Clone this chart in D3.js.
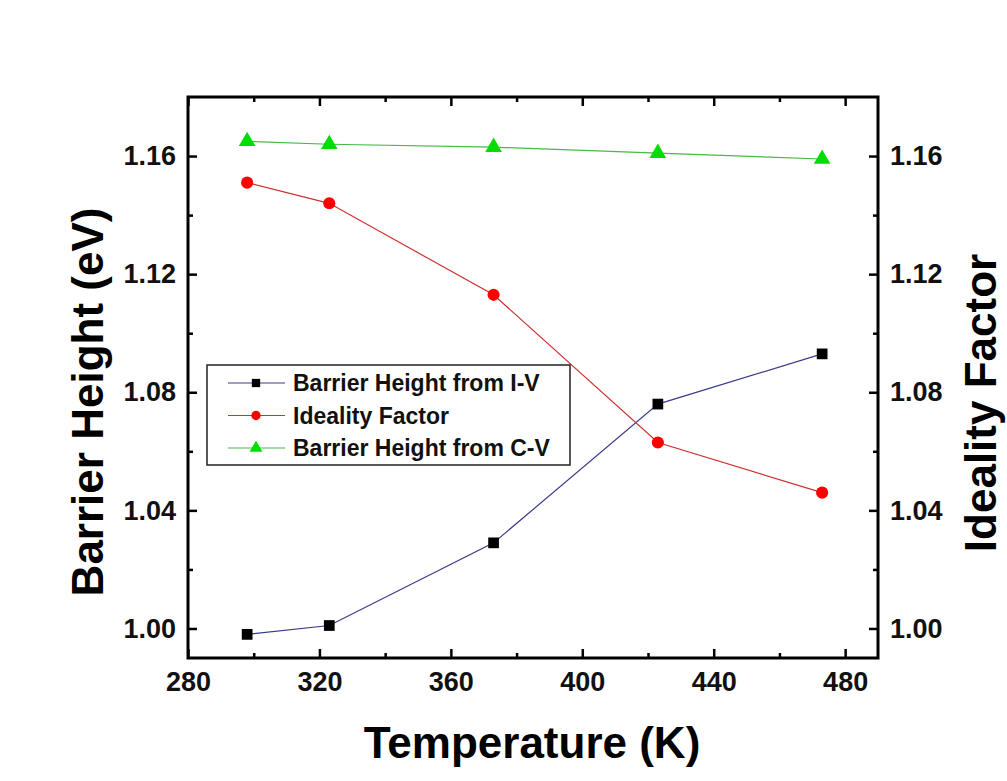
<!DOCTYPE html>
<html>
<head>
<meta charset="utf-8">
<script src="https://cdn.jsdelivr.net/npm/d3@7"></script>
<style>
  body { margin: 0; background: #fff; }
  text { font-family: "Liberation Sans", Arial, sans-serif; }
</style>
</head>
<body>
<div id="chart"></div>
<script>
// temperatures (K)
const temps = [298, 323, 373, 423, 473];
// series values
const barrierIV = [0.998, 1.001, 1.029, 1.076, 1.093];
const ideality = [1.151, 1.144, 1.113, 1.063, 1.046];
const barrierCV = [1.165, 1.164, 1.163, 1.161, 1.159];

const xTicks = [280, 320, 360, 400, 440, 480];
const yTicks = [1.00, 1.04, 1.08, 1.12, 1.16];

const seriesNames = ["Barrier Height from I-V", "Ideality Factor", "Barrier Height from C-V"];

const width = 1007, height = 781;
const plotL = 188, plotR = 878, plotT = 97, plotB = 658;

const svg = d3.select("#chart").append("svg")
  .attr("width", width)
  .attr("height", height);

const x = d3.scaleLinear().domain([280, 490]).range([plotL, plotR]);
const y = d3.scaleLinear().domain([0.99, 1.18]).range([plotB, plotT]);

const minorX = d3.range(280, 491, 20).filter(v => !xTicks.includes(v));
const minorY = d3.range(1.00, 1.18, 0.02).map(v => +v.toFixed(2)).filter(v => !yTicks.includes(v));

// ticks (inward) on all four sides
function ticks(g, axis) {
  g.call(axis);
  g.select(".domain").remove();
  g.selectAll("line").attr("stroke", "#000").attr("stroke-width", 2.5);
  g.selectAll("text")
    .attr("font-size", 27).attr("font-weight", "bold").attr("fill", "#111");
}

svg.append("g").attr("transform", `translate(0,${plotB})`)
  .call(g => ticks(g, d3.axisBottom(x).tickValues(xTicks).tickSize(-9).tickPadding(14).tickFormat(d3.format("d"))));
svg.append("g").attr("transform", `translate(0,${plotB})`)
  .call(g => ticks(g, d3.axisBottom(x).tickValues(minorX).tickSize(-5).tickFormat("")));
svg.append("g").attr("transform", `translate(0,${plotT})`)
  .call(g => ticks(g, d3.axisTop(x).tickValues(xTicks).tickSize(-9).tickFormat("")));
svg.append("g").attr("transform", `translate(0,${plotT})`)
  .call(g => ticks(g, d3.axisTop(x).tickValues(minorX).tickSize(-5).tickFormat("")));

svg.append("g").attr("transform", `translate(${plotL},0)`)
  .call(g => ticks(g, d3.axisLeft(y).tickValues(yTicks).tickSize(-9).tickPadding(12).tickFormat(d3.format(".2f"))));
svg.append("g").attr("transform", `translate(${plotL},0)`)
  .call(g => ticks(g, d3.axisLeft(y).tickValues(minorY).tickSize(-5).tickFormat("")));
svg.append("g").attr("transform", `translate(${plotR},0)`)
  .call(g => ticks(g, d3.axisRight(y).tickValues(yTicks).tickSize(-9).tickPadding(12).tickFormat(d3.format(".2f"))));
svg.append("g").attr("transform", `translate(${plotR},0)`)
  .call(g => ticks(g, d3.axisRight(y).tickValues(minorY).tickSize(-5).tickFormat("")));

// frame
svg.append("rect")
  .attr("x", plotL).attr("y", plotT)
  .attr("width", plotR - plotL).attr("height", plotB - plotT)
  .attr("fill", "none").attr("stroke", "#000").attr("stroke-width", 3);

const series = [
  { name: seriesNames[0], values: barrierIV, line: "#3a3a8c", fill: "#000", shape: d3.symbolSquare, size: 115 },
  { name: seriesNames[1], values: ideality, line: "#d03030", fill: "#ff0000", shape: d3.symbolCircle, size: 115 },
  { name: seriesNames[2], values: barrierCV, line: "#44bb44", fill: "#00dd00", shape: d3.symbolTriangle, size: 120 }
];

const line = d3.line().x(d => x(d[0])).y(d => y(d[1]));

series.forEach(s => {
  const pts = temps.map((t, i) => [t, s.values[i]]);
  svg.append("path").datum(pts)
    .attr("d", line).attr("fill", "none")
    .attr("stroke", s.line).attr("stroke-width", 1.2);
  svg.selectAll(null).data(pts).enter().append("path")
    .attr("transform", d => `translate(${x(d[0])},${y(d[1])})`)
    .attr("d", d3.symbol().type(s.shape).size(s.size))
    .attr("fill", s.fill);
});

// legend
const lg = svg.append("g").attr("transform", "translate(207,365)");
lg.append("rect").attr("width", 363).attr("height", 100)
  .attr("fill", "#fff").attr("stroke", "#222").attr("stroke-width", 1.5);
series.forEach((s, i) => {
  const yy = 18 + i * 32.5;
  lg.append("line").attr("x1", 21).attr("x2", 78).attr("y1", yy).attr("y2", yy)
    .attr("stroke", s.line).attr("stroke-width", 1.2);
  lg.append("path").attr("transform", `translate(49,${yy})`)
    .attr("d", d3.symbol().type(s.shape).size(s.size * 0.6))
    .attr("fill", s.fill);
  lg.append("text").attr("x", 86).attr("y", yy).attr("dy", "0.35em")
    .attr("font-size", 23).attr("font-weight", "bold").attr("fill", "#111")
    .text(s.name);
});

// axis titles
svg.append("text")
  .attr("x", 532).attr("y", 758)
  .attr("text-anchor", "middle").attr("font-size", 44).attr("font-weight", "bold")
  .text("Temperature (K)");
svg.append("text")
  .attr("transform", "translate(103,402) rotate(-90)")
  .attr("text-anchor", "middle").attr("font-size", 44).attr("font-weight", "bold")
  .text("Barrier Height (eV)");
svg.append("text")
  .attr("transform", "translate(996,403) rotate(-90)")
  .attr("text-anchor", "middle").attr("font-size", 44).attr("font-weight", "bold")
  .text("Ideality Factor");
</script>
</body>
</html>
